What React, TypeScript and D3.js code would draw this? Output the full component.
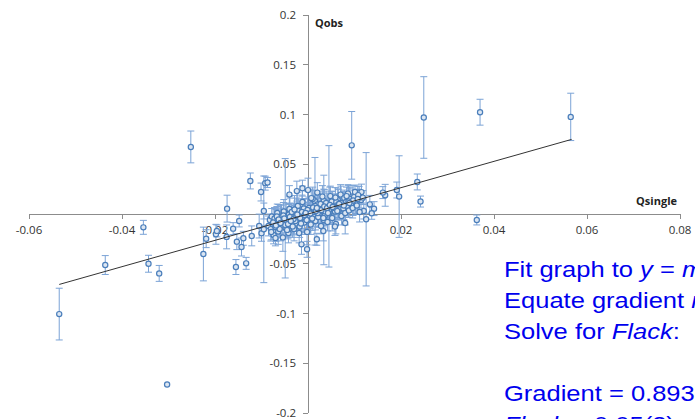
import React from 'react';
import * as d3 from 'd3';

// Qsingle, Qobs and error
const qsingle: number[] = [
  -0.0535, -0.0436, -0.0354, -0.0343, -0.032, -0.0303, -0.0252, -0.0225, -0.0219, -0.0198,
  -0.0196, -0.0174, -0.0175, -0.0161, -0.0155, -0.0153, -0.0148, -0.0143, -0.0139, -0.0133,
  -0.0124, -0.0121, -0.0105, -0.0101, -0.01, -0.0095, -0.0092, -0.0087, -0.0095,
  0.0565, 0.037, 0.0249, 0.0235, 0.0242, 0.0363, 0.0191, 0.0196, 0.0166, 0.0161,
  0.0125, 0.0094, 0.0045, 0.0015, 0.0034, 0.0019, -0.0002, -0.0014, -0.0049,
  0.0133, 0.0142, 0.0137, 0.012, 0.011, 0.0101, 0.0115, 0.009,
  -0.0085, -0.0082, -0.008, -0.0078, -0.0076, -0.0074, -0.0072, -0.007, -0.0068, -0.0066,
  -0.0064, -0.0062, -0.006, -0.0058, -0.0056, -0.0054, -0.0052, -0.005, -0.0048, -0.0046,
  -0.0044, -0.0042, -0.004, -0.0038, -0.0036, -0.0034, -0.0032, -0.003, -0.0028, -0.0026,
  -0.0024, -0.0022, -0.002, -0.0018, -0.0016, -0.0014, -0.0012, -0.001, -0.0008, -0.0006,
  -0.0004, -0.0002, 0.0, 0.0002, 0.0004, 0.0006, 0.0008, 0.001, 0.0012, 0.0014,
  0.0016, 0.0018, 0.002, 0.0022, 0.0024, 0.0026, 0.0028, 0.003, 0.0032, 0.0034,
  0.0036, 0.0038, 0.004, 0.0042, 0.0044, 0.0046, 0.0048, 0.005, 0.0052, 0.0054,
  0.0056, 0.0058, 0.006, 0.0062, 0.0064, 0.0066, 0.0068, 0.007, 0.0072, 0.0074,
  0.0076, 0.0078, 0.008, 0.0082, 0.0084, 0.0086, 0.0088, 0.009, 0.0093, 0.0096,
  0.0099, 0.0102, 0.0105, 0.0108, 0.0111, 0.0114, 0.0118,
  -0.0057, -0.0049, -0.0041, -0.0033, -0.0027, -0.0021, -0.0015, -0.0009, -0.0003, 0.0003,
  0.0009, 0.0015, 0.0021, 0.0027, 0.0033, 0.0039, 0.0045, 0.0051, 0.0057, 0.0063,
  -0.0061, -0.0035, -0.0011, 0.0013, 0.0037, 0.0061, -0.0079, -0.0067, -0.0045, -0.0019,
  0.0007, 0.0031, 0.0059, 0.0083,
  -0.0024, 0.0, -0.004, 0.002, -0.0012,
  0.0058, 0.0033, 0.008, -0.007,
  -0.0075, -0.0069, -0.0063, -0.0059, -0.0053, -0.0047, -0.0043, -0.0039, -0.0031, -0.0029,
  -0.0025, -0.0017, -0.0013, -0.0007, -0.0001, 0.0005, 0.0011, 0.0017, 0.0023, 0.0029,
  0.0035, 0.0041, 0.0047, 0.0053, 0.0065, 0.0071, 0.0077, 0.0087, 0.0097, 0.0107,
  -0.0051, -0.0037, -0.0023, -0.0005, 0.0019, 0.0043, 0.0067, 0.0089,
];

const qobs: number[] = [
  -0.1006, -0.0513, -0.0134, -0.05, -0.0597, -0.1713, 0.0674, -0.0402, -0.0248, -0.0204,
  -0.017, 0.0054, -0.023, -0.0147, -0.0533, -0.0278, -0.007, -0.0332, -0.0244, -0.0496,
  0.0332, -0.022, -0.0121, 0.0221, -0.0194, -0.0154, 0.031, 0.0316, 0.003,
  0.0976, 0.1023, 0.097, 0.0322, 0.0125, -0.006, 0.0241, 0.0175, 0.0188, 0.0215,
  -0.0053, 0.069, 0.0077, 0.0128, -0.006, -0.0254, -0.0355, -0.0305, -0.0043,
  0.0097, 0.0054, 0.0007, 0.003, 0.0215, 0.0221, 0.022, 0.018,
  -0.012, -0.006, -0.0152, -0.0025, -0.01, -0.021, -0.0045, -0.013, -0.0082, 0.001,
  -0.0175, -0.0098, -0.004, -0.012, -0.0066, -0.0235, 0.0025, -0.0088, -0.014, -0.0035,
  -0.0072, -0.019, 0.005, -0.0055, -0.011, -0.002, -0.0078, -0.015, 0.0015, -0.0045,
  -0.0095, 0.008, -0.003, -0.0125, 0.0005, -0.006, 0.012, -0.0015, -0.0085, 0.0035,
  -0.004, -0.018, 0.001, 0.006, -0.002, -0.0105, 0.003, 0.015, -0.0005, 0.0045,
  -0.007, 0.002, 0.0095, -0.003, 0.0055, 0.001, -0.012, 0.007, 0.0025, 0.013,
  -0.0015, 0.006, 0.0035, -0.008, 0.009, 0.0015, 0.018, 0.005, -0.004, 0.0075,
  0.011, 0.0025, -0.01, 0.0085, 0.014, 0.004, 0.0065, 0.0195, -0.002, 0.01,
  0.0055, 0.016, 0.001, 0.012, 0.008, 0.0205, 0.0035, 0.015, 0.01, 0.006,
  0.017, 0.0125, 0.0085, 0.019, 0.002, 0.014, 0.0165,
  -0.003, -0.011, -0.0005, -0.0125, -0.007, 0.003, -0.0095, 0.0055, -0.006, 0.0025,
  -0.0045, 0.008, 0.001, 0.01, -0.004, 0.011, 0.004, 0.0125, 0.006, 0.003,
  -0.015, 0.002, -0.0025, 0.002, 0.0025, 0.012, -0.018, -0.0025, -0.016, -0.019,
  0.016, 0.0175, 0.0165, 0.018,
  0.023, 0.024, 0.0195, 0.0215, 0.026,
  -0.0125, -0.017, -0.009, -0.024,
  -0.0085, -0.0115, -0.0055, -0.009, -0.0015, -0.006, -0.01, -0.003, -0.005, 0.0045,
  -0.002, -0.004, 0.002, -0.001, 0.004, 0.0005, 0.0065, 0.003, 0.005, 0.004,
  0.0075, 0.006, 0.009, 0.007, 0.0095, 0.011, 0.0085, 0.0125, 0.0135, 0.015,
  -0.0045, -0.007, -0.0005, 0.001, 0.006, 0.001, 0.01, 0.011,
];

const qerr: number[] = [
  0.026, 0.0095, 0.007, 0.0085, 0.008, 0.0, 0.016, 0.027, 0.009, 0.01,
  0.006, 0.0135, 0.012, 0.006, 0.0075, 0.008, 0.006, 0.009, 0.007, 0.006,
  0.008, 0.01, 0.012, 0.009, 0.008, 0.0536, 0.007, 0.005, 0.008,
  0.0238, 0.013, 0.041, 0.008, 0.0055, 0.005, 0.008, 0.041, 0.011, 0.006,
  0.067, 0.034, 0.061, 0.044, 0.045, 0.006, 0.008, 0.01, 0.06,
  0.009, 0.007, 0.006, 0.008, 0.006, 0.007, 0.008, 0.009,
  0.01, 0.006, 0.012, 0.008, 0.005, 0.009, 0.011, 0.007, 0.004, 0.009,
  0.013, 0.006, 0.01, 0.008, 0.005, 0.014, 0.012, 0.007, 0.009, 0.006,
  0.011, 0.01, 0.013, 0.006, 0.008, 0.009, 0.005, 0.012, 0.007, 0.01,
  0.006, 0.014, 0.008, 0.011, 0.006, 0.009, 0.016, 0.007, 0.01, 0.012,
  0.006, 0.013, 0.009, 0.011, 0.007, 0.01, 0.006, 0.012, 0.008, 0.014,
  0.009, 0.005, 0.011, 0.01, 0.007, 0.013, 0.008, 0.009, 0.006, 0.012,
  0.01, 0.007, 0.011, 0.009, 0.006, 0.012, 0.01, 0.008, 0.013, 0.006,
  0.009, 0.011, 0.01, 0.007, 0.012, 0.008, 0.006, 0.01, 0.009, 0.011,
  0.007, 0.008, 0.012, 0.006, 0.01, 0.009, 0.007, 0.011, 0.008, 0.01,
  0.007, 0.012, 0.009, 0.006, 0.01, 0.008, 0.007,
  0.012, 0.008, 0.01, 0.011, 0.009, 0.012, 0.008, 0.01, 0.011, 0.009,
  0.012, 0.008, 0.01, 0.011, 0.009, 0.012, 0.008, 0.01, 0.011, 0.009,
  0.009, 0.007, 0.006, 0.006, 0.007, 0.008, 0.008, 0.01, 0.007, 0.01,
  0.009, 0.011, 0.01, 0.009,
  0.01, 0.012, 0.009, 0.01, 0.008,
  0.009, 0.01, 0.011, 0.008,
  0.014, 0.016, 0.015, 0.018, 0.013, 0.017, 0.015, 0.019, 0.016, 0.014,
  0.018, 0.015, 0.017, 0.016, 0.019, 0.015, 0.017, 0.016, 0.018, 0.014,
  0.017, 0.015, 0.018, 0.016, 0.015, 0.017, 0.014, 0.016, 0.015, 0.013,
  0.009, 0.01, 0.008, 0.009, 0.01, 0.009, 0.01, 0.008,
];

// linear trendline end points
const trendX = [-0.0535, 0.0567];
const trendY = [-0.0708, 0.075];

const xTicks = [-0.06, -0.04, -0.02, 0, 0.02, 0.04, 0.06, 0.08];
const yTicks = [-0.2, -0.15, -0.1, -0.05, 0, 0.05, 0.1, 0.15, 0.2];

const WIDTH = 695;
const HEIGHT = 419;
const AXIS_COLOR = '#8c8c8c';
const LABEL_FONT = '"Open Sans", sans-serif';

const fmt = (v: number) => String(+v.toFixed(2));

const App = () => {
  const xScale = d3.scaleLinear().domain([-0.06, 0.08]).range([29, 680]);
  const yScale = d3.scaleLinear().domain([-0.2, 0.2]).range([413, 15]);
  const x0 = xScale(0);
  const y0 = yScale(0);

  const line = d3
    .line<number>()
    .x((d) => xScale(d))
    .y((d, i) => yScale(trendY[i]));

  const cap = 3.5;

  return (
    <svg
      width={WIDTH}
      height={HEIGHT}
      viewBox={`0 0 ${WIDTH} ${HEIGHT}`}
      style={{ position: 'fixed', left: 0, top: 0, background: '#fff' }}
    >
      <rect width={WIDTH} height={HEIGHT} fill="#fff" />
      {/* axes */}
      <g stroke={AXIS_COLOR} strokeWidth={1} shapeRendering="crispEdges">
        <line x1={xScale(-0.06)} x2={xScale(0.08)} y1={y0} y2={y0} />
        <line x1={x0} x2={x0} y1={yScale(0.2)} y2={yScale(-0.2)} />
        {xTicks.map((t) => (
          <line key={'xt' + t} x1={xScale(t)} x2={xScale(t)} y1={y0} y2={y0 + 5} />
        ))}
        {yTicks.map((t) => (
          <line key={'yt' + t} x1={x0 - 5} x2={x0} y1={yScale(t)} y2={yScale(t)} />
        ))}
      </g>
      <g fontFamily={LABEL_FONT} fontSize={11.5} fill="#333">
        {xTicks.map((t) => (
          <text key={'xl' + t} x={xScale(t)} y={y0 + 20} textAnchor="middle">
            {fmt(t)}
          </text>
        ))}
        {yTicks.map((t) => (
          <text key={'yl' + t} x={x0 - 12} y={yScale(t) + 4} textAnchor="end">
            {fmt(t)}
          </text>
        ))}
      </g>
      <g fontFamily={LABEL_FONT} fontSize={11} fontWeight="bold" fill="#222">
        <text x={x0 + 7} y={27}>Qobs</text>
        <text x={677} y={205} textAnchor="end">Qsingle</text>
      </g>

      {/* error bars */}
      <g stroke="#7ba3d6" strokeWidth={1} fill="none">
        {qsingle.map((q, i) => {
          const cx = xScale(q);
          const top = yScale(qobs[i] + qerr[i]);
          const bot = yScale(qobs[i] - qerr[i]);
          if (qerr[i] === 0) return null;
          return (
            <g key={'e' + i}>
              <line x1={cx} x2={cx} y1={top} y2={bot} />
              <line x1={cx - cap} x2={cx + cap} y1={top} y2={top} />
              <line x1={cx - cap} x2={cx + cap} y1={bot} y2={bot} />
            </g>
          );
        })}
      </g>
      {/* markers */}
      <g stroke="#4a7ebb" strokeWidth={1.2} fill="#dce6f2">
        {qsingle.map((q, i) => (
          <circle key={'p' + i} cx={xScale(q)} cy={yScale(qobs[i])} r={2.6} />
        ))}
      </g>
      {/* trendline */}
      <path d={line(trendX) || ''} stroke="#333" strokeWidth={1} fill="none" />

      {/* slide text */}
      <g
        fontFamily='"Liberation Sans", Arial, sans-serif'
        fontSize={22}
        fill="#0000ee"
        transform="translate(504,0) scale(1.16,1)"
      >
        <text x={0} y={277}>
          Fit graph to <tspan fontStyle="italic">y</tspan> = <tspan fontStyle="italic">m</tspan>x + c
        </text>
        <text x={0} y={308.5}>
          Equate gradient <tspan fontStyle="italic">m</tspan> to (1 – 2<tspan fontStyle="italic">Flack</tspan>)
        </text>
        <text x={0} y={339.5}>
          Solve for <tspan fontStyle="italic">Flack</tspan>:
        </text>
        <text x={0} y={401.5}>Gradient = 0.893(5)</text>
        <text x={0} y={432.5}>
          <tspan fontStyle="italic">Flack</tspan> = 0.05(2)
        </text>
      </g>
    </svg>
  );
};

export default App;
